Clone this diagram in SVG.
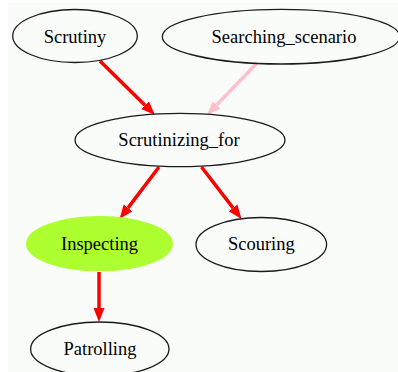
<svg xmlns="http://www.w3.org/2000/svg" width="398" height="372" viewBox="0 0 398 372">
  <style>
    .node ellipse { fill: none; stroke: #1a1a1a; stroke-width: 1.3; }
    .node text { font-family: 'Liberation Serif', 'DejaVu Serif', 'Times New Roman', serif; font-size: 18.5px; fill: #000; text-anchor: middle; }
    .edge { fill: none; stroke-width: 3.5; }
    .red { stroke: #ff0000; }
    .pink { stroke: #ffc0cb; }
  </style>
  <defs>
    <marker id="headRed" markerUnits="userSpaceOnUse" markerWidth="16" markerHeight="12" viewBox="0 -6 16 12" refX="0" refY="0" orient="auto">
      <path d="M0,-5.5 L14,0 L0,5.5 z" fill="#ff0000"/>
    </marker>
    <marker id="headPink" markerUnits="userSpaceOnUse" markerWidth="16" markerHeight="12" viewBox="0 -6 16 12" refX="0" refY="0" orient="auto">
      <path d="M0,-5.5 L14,0 L0,5.5 z" fill="#ffc0cb"/>
    </marker>
  </defs>

  <rect x="0" y="0" width="398" height="372" fill="#ffffff"/>
  <rect x="8" y="3" width="390" height="369" fill="#fafcfa"/>

  <g id="connectors">
    <path class="edge red" d="M100,61 L145,105.2" marker-end="url(#headRed)"/>
    <path class="edge pink" d="M257,63 L216.7,104.9" marker-end="url(#headPink)"/>
    <path class="edge red" d="M159,167 L128,207.9" marker-end="url(#headRed)"/>
    <path class="edge red" d="M201.5,167 L233,207.9" marker-end="url(#headRed)"/>
    <path class="edge red" d="M99,272 L99,308" marker-end="url(#headRed)"/>
  </g>

  <g id="node-scrutiny" class="node">
    <ellipse cx="75" cy="36" rx="62.3" ry="26.5"/>
    <text x="75" y="42.5" font-family="Liberation Serif, serif">Scrutiny</text>
  </g>
  <g id="node-searching-scenario" class="node">
    <ellipse cx="281" cy="36.7" rx="118.7" ry="27.3"/>
    <text x="284" y="43" font-family="Liberation Serif, serif">Searching_scenario</text>
  </g>
  <g id="node-scrutinizing-for" class="node">
    <ellipse cx="180" cy="140" rx="105" ry="26.7"/>
    <text x="179" y="146" font-family="Liberation Serif, serif">Scrutinizing_for</text>
  </g>
  <g id="node-inspecting" class="node">
    <ellipse cx="99.5" cy="243.7" rx="72.8" ry="27" style="fill:#adff2f;stroke:#adff2f"/>
    <text x="99.5" y="249.5" font-family="Liberation Serif, serif">Inspecting</text>
  </g>
  <g id="node-scouring" class="node">
    <ellipse cx="261.3" cy="244.5" rx="65.3" ry="27"/>
    <text x="261.3" y="250" font-family="Liberation Serif, serif">Scouring</text>
  </g>
  <g id="node-patrolling" class="node">
    <ellipse cx="99.8" cy="349" rx="69.2" ry="27"/>
    <text x="100" y="354.5" font-family="Liberation Serif, serif">Patrolling</text>
  </g>
</svg>
